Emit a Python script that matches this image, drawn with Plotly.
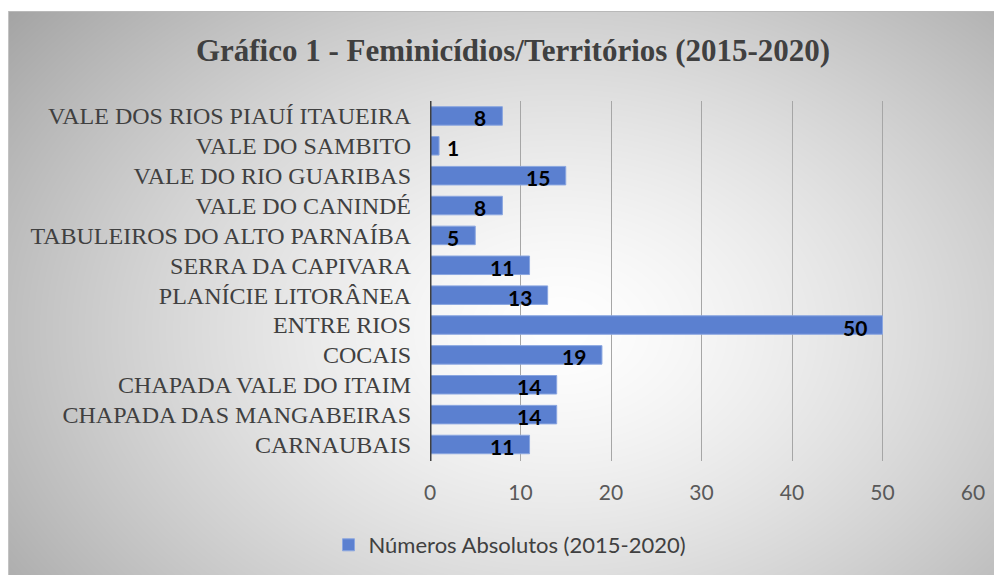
import base64, struct, zlib
import numpy as np
import plotly.graph_objects as go

categories = ["CARNAUBAIS", "CHAPADA DAS MANGABEIRAS", "CHAPADA VALE DO ITAIM", "COCAIS",
              "ENTRE RIOS", "PLANÍCIE LITORÂNEA", "SERRA DA CAPIVARA",
              "TABULEIROS DO ALTO PARNAÍBA", "VALE DO CANINDÉ", "VALE DO RIO GUARIBAS",
              "VALE DO SAMBITO", "VALE DOS RIOS PIAUÍ ITAUEIRA"]
values = [11, 14, 14, 19, 50, 13, 11, 5, 8, 15, 1, 8]
x_ticks = [0, 10, 20, 30, 40, 50, 60]
title_text = "Gráfico 1 - Feminicídios/Territórios (2015-2020)"
series_name = "Números Absolutos (2015-2020)"

W, H = 1002, 575
L, R, T, B = 422, 37, 93, 122
PW, PH = W - L - R, H - T - B

# radial gradient background as PNG
yy, xx = np.mgrid[0:H, 0:W].astype(float)
cx, cy = 552.0, 322.0
d = np.sqrt(((xx - cx) / 600.0) ** 2 + ((yy - cy) / 430.0) ** 2)
g = 255 - 72 * np.clip(d, 0, 1.3) ** 1.4
g = np.clip(g, 0, 255)
g[yy < 3] = 255
g[(yy >= 3) & (yy < 4)] = 185
g[(xx < 1) & (yy >= 3)] = 195
img = np.repeat(g[:, :, None], 3, axis=2).astype(np.uint8)
raw = b"".join(b"\x00" + img[r].tobytes() for r in range(H))
def chunk(t, data):
    c = struct.pack(">I", len(data)) + t + data
    return c + struct.pack(">I", zlib.crc32(t + data) & 0xffffffff)
png = b"\x89PNG\r\n\x1a\n" + chunk(b"IHDR", struct.pack(">IIBBBBB", W, H, 8, 2, 0, 0, 0)) \
      + chunk(b"IDAT", zlib.compress(raw, 9)) + chunk(b"IEND", b"")
bg_src = "data:image/png;base64," + base64.b64encode(png).decode()

fig = go.Figure()
fig.add_trace(go.Bar(
    x=values, y=categories, orientation="h", name=series_name,
    marker=dict(color="#5b80d0", line=dict(color="#8aa6e0", width=1)),
    hoverinfo="x+y",
))

label_font = dict(family="Lato", size=21, color="#000000")
annotations = []
for c, v in zip(categories, values):
    inside = v >= 3
    annotations.append(dict(
        x=v, y=c, xref="x", yref="y", text="<b>%d</b>" % v, showarrow=False,
        xanchor="right" if inside else "left", xshift=-14 if inside else 6, yshift=-2,
        font=label_font))

fig.update_layout(
    width=W, height=H,
    margin=dict(l=L, r=R, t=T, b=B, pad=0),
    paper_bgcolor="#ffffff", plot_bgcolor="rgba(0,0,0,0)",
    bargap=0.38,
    showlegend=True,
    legend=dict(orientation="h", x=(502 - L) / PW, xanchor="center",
                y=-(537 - (H - B)) / PH, yanchor="middle",
                font=dict(family="Lato", size=22, color="#404040"),
                bgcolor="rgba(0,0,0,0)"),
    title=dict(text="<b>" + title_text + "</b>", x=505 / W, xanchor="center",
               y=1 - 42 / H, yanchor="middle",
               font=dict(family="Liberation Serif", size=31, color="#404040")),
    images=[dict(source=bg_src, xref="paper", yref="paper",
                 x=-L / PW, y=1 + T / PH, sizex=W / PW, sizey=H / PH,
                 xanchor="left", yanchor="top", sizing="stretch", layer="below")],
    xaxis=dict(range=[0, 60], tickvals=x_ticks, showgrid=True, gridcolor="#a6a6a6",
               gridwidth=1, zeroline=False, showline=False,
               tickfont=dict(family="Lato", size=21, color="#595959"),
               ticklabelstandoff=17, ticks=""),
    yaxis=dict(showgrid=False, zeroline=False, showline=False, ticks="",
               tickfont=dict(family="Liberation Serif", size=24, color="#404040"),
               ticklabelstandoff=18),
    annotations=annotations,
    shapes=[dict(type="line", xref="x", yref="paper", x0=0, x1=0, y0=0, y1=1,
                 line=dict(color="#404040", width=3), layer="above")],
)

fig.write_html("out.html")
